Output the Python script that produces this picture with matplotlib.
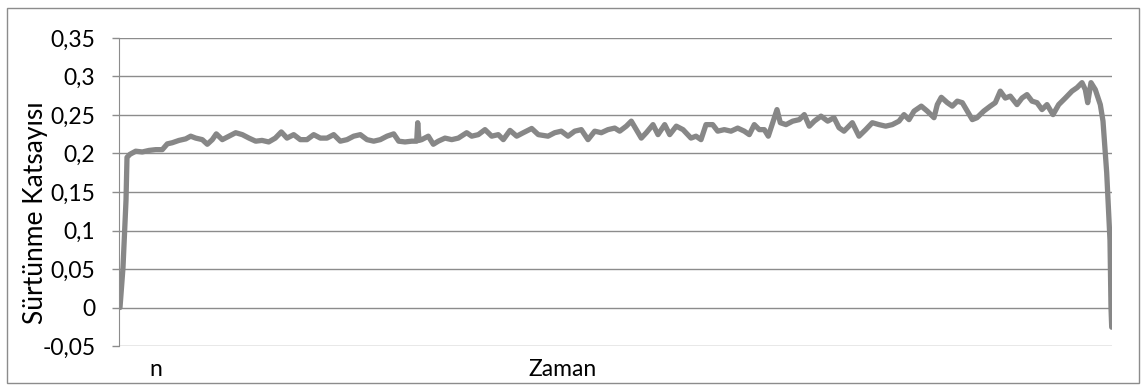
import matplotlib.pyplot as plt
from matplotlib.patches import Rectangle

# time index (arbitrary units) and friction coefficient
t = [1, 4, 7, 8, 11, 16.7, 23.3, 30, 36.7, 43.3, 48.3, 53.3, 60, 66.7, 71.7, 76.7, 83.3, 88.3,
     93.3, 97.3, 103.3, 110, 116.7, 123.3, 130, 136.7, 143,
     149.7, 156.3, 162.3, 168, 174.7, 181.3, 188, 194.7, 201.3, 208, 214.7, 221.3, 228, 234.7,
     241.3, 248, 254.7, 261.3, 268, 274.7, 279.7, 286,
     292.7, 297.7, 298.7, 300, 302.7, 309.3, 314.3, 319.3, 326, 332.7, 339.3, 347.7, 352.7,
     359.3, 366, 372.7, 379.3, 384.3, 391, 397.7, 404.3, 412.7, 419.3, 429,
     435.7, 442.3, 449, 455.7, 462.3, 469, 475.7, 482.3, 489, 495.7, 500.7, 507.3, 512.3,
     517.3, 522.3, 527.3, 534, 539, 545.7, 550.7, 557.3, 564, 572,
     577, 582, 587, 593.7, 598.7, 605.3, 612, 618.7, 625.3, 630.3, 635.3, 640.3, 645.3, 649.3,
     653.7, 658, 661.3, 667, 673.7, 680.3, 685.3, 690.3, 695.3, 702, 708.7, 715,
     720, 725, 733.3, 740, 746.7, 753.3, 760, 766.7, 773.3, 780, 785, 790, 795, 802.3, 808.3,
     815, 818.3, 822.3, 828.3, 833.3, 838.3, 843.3, 848.3, 853.3, 858,
     864.7, 871.3, 876.3, 881.3, 886.3, 891.3, 898, 903, 908, 913, 918, 923, 928, 934, 939.7,
     946.3, 953, 958, 963, 966.3, 968.7, 972, 976.3, 981.3, 984, 987.7, 991, 992, 992.7]
mu = [0.0, 0.052, 0.139, 0.195, 0.199, 0.203, 0.202, 0.204, 0.205, 0.205, 0.2125, 0.214, 0.217,
      0.219, 0.2225, 0.22, 0.218, 0.212, 0.218, 0.2255, 0.218, 0.2225, 0.227, 0.2245, 0.22,
      0.216, 0.217,
      0.215, 0.22, 0.228, 0.22, 0.2245, 0.218, 0.218, 0.2245, 0.22, 0.22, 0.2245, 0.216, 0.218,
      0.2225, 0.2245, 0.218, 0.216, 0.218, 0.2225, 0.2255, 0.216, 0.215,
      0.216, 0.216, 0.24, 0.217, 0.218, 0.2225, 0.212, 0.216, 0.22, 0.218, 0.22, 0.227, 0.2225,
      0.2245, 0.231, 0.2225, 0.2245, 0.218, 0.23, 0.2225, 0.227, 0.2325, 0.2245, 0.2225,
      0.227, 0.229, 0.2225, 0.229, 0.231, 0.218, 0.229, 0.227, 0.231, 0.233, 0.229, 0.2355,
      0.242, 0.231, 0.22, 0.227, 0.2375, 0.2245, 0.2375, 0.2245, 0.2355, 0.231, 0.22,
      0.2225, 0.218, 0.2375, 0.2375, 0.229, 0.231, 0.229, 0.233, 0.229, 0.2245, 0.2375, 0.231,
      0.231, 0.2225, 0.24, 0.257, 0.24, 0.2375, 0.242, 0.244, 0.2505, 0.2355, 0.242, 0.2485,
      0.242, 0.2465,
      0.2335, 0.229, 0.24, 0.2225, 0.231, 0.24, 0.2375, 0.2355, 0.2375, 0.242, 0.2505, 0.244,
      0.255, 0.2615, 0.255, 0.2465, 0.2635, 0.273, 0.266, 0.2615, 0.268, 0.266, 0.255, 0.244,
      0.2465,
      0.255, 0.2615, 0.266, 0.281, 0.272, 0.2745, 0.2635, 0.272, 0.2765, 0.268, 0.266, 0.257,
      0.2635, 0.2505, 0.2635, 0.272, 0.281, 0.2855, 0.292, 0.283, 0.266, 0.292, 0.283, 0.2635,
      0.242, 0.175, 0.087, 0.0, -0.0256]
yticks = [-0.05, 0, 0.05, 0.1, 0.15, 0.2, 0.25, 0.3, 0.35]
ytick_labels = ['-0,05', '0', '0,05', '0,1', '0,15', '0,2', '0,25', '0,3', '0,35']

plt.rcParams['font.family'] = ['Lato', 'DejaVu Sans']
grid_col = '#8c8c8c'

fig = plt.figure(figsize=(11.44, 3.85), dpi=100)
ax = fig.add_axes([119 / 1144, 1 - 346 / 385, (1112 - 119) / 1144, (346 - 38) / 385])

ax.plot(t, mu, color='#878787', lw=3.8, solid_joinstyle='round', solid_capstyle='round')

ax.set_xlim(0, 993)
ax.set_ylim(-0.05, 0.35)
ax.set_yticks(yticks)
ax.set_yticklabels(ytick_labels)
ax.set_xticks([])
ax.grid(axis='y', color=grid_col, lw=1)
ax.set_axisbelow(True)
ax.tick_params(axis='y', length=5, width=1, color=grid_col, pad=12, labelsize=16.5)
for s in ['top', 'right', 'bottom']:
    ax.spines[s].set_visible(False)
ax.spines['left'].set_color(grid_col)

fig.text(36 / 1144, 1 - 213 / 385, 'Sürtünme Katsayısı', rotation=90,
         ha='center', va='center', fontsize=19)
fig.text(156 / 1144, 1 - 370 / 385, 'n', ha='center', va='center', fontsize=16.5)
fig.text(563 / 1144, 1 - 370 / 385, 'Zaman', ha='center', va='center', fontsize=16.5)

fig.patches.append(Rectangle((7 / 1144, 1 - 383 / 385), (1139 - 7) / 1144, (383 - 8) / 385,
                             transform=fig.transFigure, fill=False, edgecolor=grid_col, lw=1))

fig.savefig('out.png', dpi=100)
